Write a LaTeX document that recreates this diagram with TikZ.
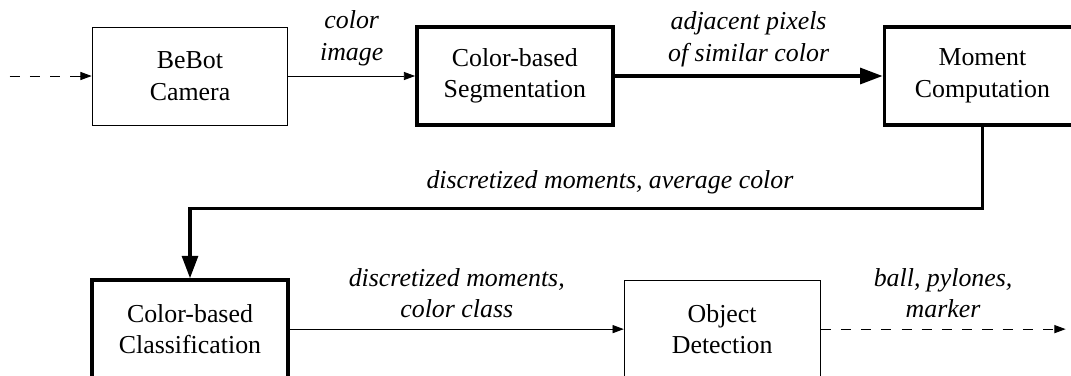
\documentclass[tikz,border=0pt]{standalone}
\usepackage{fontspec}
\setmainfont{Liberation Serif}
\usetikzlibrary{arrows.meta,positioning}

\begin{document}
\begin{tikzpicture}[->,>={Triangle[length=5pt,width=3.6pt]},thin,
                    font=\fontsize{11.5}{14}\selectfont]

  \tikzstyle{block}=[rectangle,draw,thin,align=center,inner sep=0pt,
                     minimum width=3.06cm,minimum height=1.53cm]
  \tikzstyle{heavy}=[block,line width=1.6pt]
  \tikzstyle{flow}=[font=\itshape\fontsize{11.5}{14}\selectfont,align=center]
  \tikzstyle{bigarrow}=[line width=1.6pt,-{Triangle[length=10pt,width=7pt]}]
  \tikzstyle{loose}=[dash pattern=on 4.5pt off 4.5pt]

  \useasboundingbox (-2.969,1.1875) rectangle (13.766,-4.6875);

  \node[block] (cam)                        {BeBot \\ Camera};
  \node[heavy] (seg) [right=1.98cm of cam]  {Color-based \\ Segmentation};
  \node[heavy] (mom) [right=4.19cm of seg]  {Moment \\ Computation};

  \node[heavy] (cls) [below=2.39cm of cam]  {Color-based \\ Classification};
  \node[block] (det) [right=5.22cm of cls]  {Object \\ Detection};

  \coordinate[left=1.28cm of cam]  (in);
  \coordinate[right=3.83cm of det] (out);

  \draw[loose] (in) -- (cam);
  \draw (cam) -- node[flow,above=1pt] {color \\ image} (seg);
  \draw[bigarrow] (seg) -- node[flow,above=0pt] {adjacent pixels \\ of similar color} (mom);

  \draw[bigarrow] (mom.south) -- ++(0,-1.28)
    -| node[flow,above=2.5pt,pos=0.235] {discretized moments, average color} (cls.north);

  \draw (cls) -- node[flow,above=1.5pt] {discretized moments, \\ color class} (det);
  \draw[loose] (det) -- node[flow,above=1.5pt] {ball, pylones, \\ marker} (out);
\end{tikzpicture}
\end{document}
